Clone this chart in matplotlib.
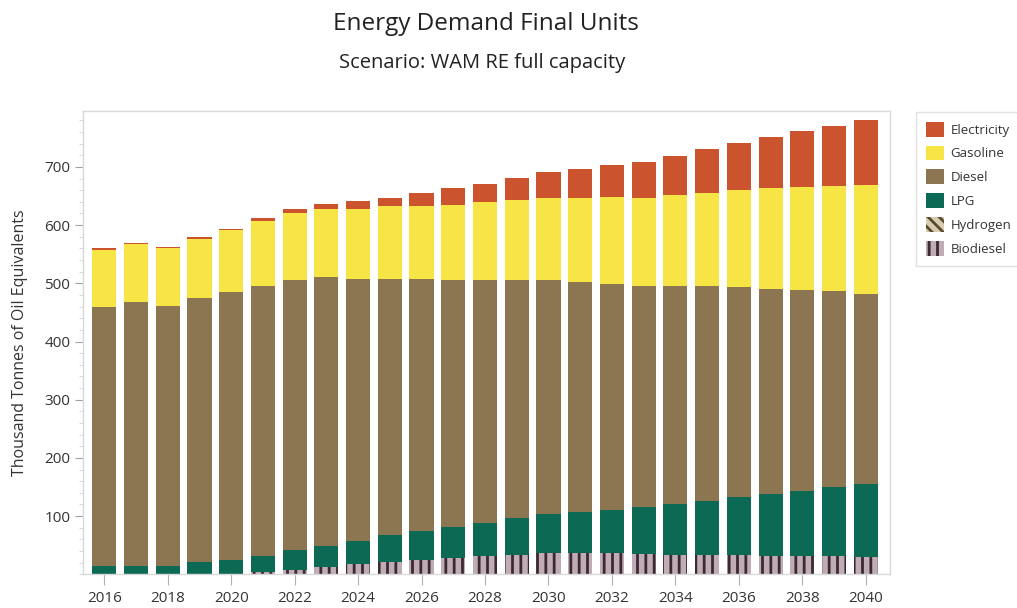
import numpy as np
import matplotlib
matplotlib.use("Agg")
import matplotlib.pyplot as plt
from matplotlib.patches import Patch
from matplotlib.ticker import MultipleLocator

plt.rcParams['font.family'] = ['Open Sans', 'DejaVu Sans']
plt.rcParams['hatch.linewidth'] = 2.0

# Final energy demand by fuel, thousand tonnes of oil equivalent
years = list(range(2016, 2041))
biodiesel = [0, 0, 0, 0, 0, 4, 8, 13, 17, 21, 24, 28, 31, 34, 37, 37, 36, 35,
             34, 34, 33, 32, 32, 31, 30]
hydrogen = [0] * 25
lpg = [14, 14, 14, 21, 24, 28, 33, 36, 41, 46, 50, 53, 58, 63, 66, 70, 75, 81,
       86, 92, 100, 106, 112, 119, 126]
diesel = [446, 454, 447, 454, 461, 463, 464, 461, 449, 441, 433, 424, 416, 408,
          402, 395, 387, 380, 376, 370, 361, 353, 345, 336, 325]
gasoline = [98, 99, 100, 101, 106, 112, 115, 118, 121, 125, 126, 129, 134, 138,
            141, 145, 150, 151, 156, 159, 166, 172, 176, 181, 188]
electricity = [2, 2, 2, 3, 3, 6, 8, 9, 13, 14, 22, 29, 31, 38, 45, 50, 55, 61,
               67, 75, 81, 89, 96, 104, 111]

# (name, values, facecolor, hatch, hatch colour) from bottom to top
layers = [
    ("Biodiesel", biodiesel, "#bfacb4", "||", "#3b2a33"),
    ("Hydrogen", hydrogen, "#d8ccb0", "\\\\\\", "#5a4a30"),
    ("LPG", lpg, "#0c6a54", None, None),
    ("Diesel", diesel, "#8b7651", None, None),
    ("Gasoline", gasoline, "#f6e544", None, None),
    ("Electricity", electricity, "#cb532d", None, None),
]

fig = plt.figure(figsize=(10.17, 6.08), dpi=100)
ax = fig.add_axes([0.0813, 0.0554, 0.7937, 0.762])

x = np.array(years)
bottom = np.zeros(len(years))
for name, vals, fc, hatch, hc in layers:
    vals = np.array(vals, dtype=float)
    if hatch:
        ax.bar(x, vals, width=0.76, bottom=bottom, color=fc, hatch=hatch,
               edgecolor=hc, linewidth=0)
    else:
        ax.bar(x, vals, width=0.76, bottom=bottom, color=fc, linewidth=0)
    bottom += vals

ax.set_xlim(2015.32, 2040.76)
ax.set_ylim(0, 796)
ax.set_xticks(range(2016, 2041, 2))
ax.yaxis.set_major_locator(MultipleLocator(100))
ax.yaxis.set_minor_locator(MultipleLocator(20))
ax.set_yticks([100, 200, 300, 400, 500, 600, 700])

for side in ax.spines.values():
    side.set_color("#d9d9d9")
    side.set_linewidth(1.0)

ax.tick_params(axis='x', which='major', length=8, color="#b0b0b0",
               labelsize=11, labelcolor="#333333", pad=4)
ax.tick_params(axis='y', which='major', length=6, color="#a0a0a0",
               labelsize=11, labelcolor="#333333", pad=3)
ax.tick_params(axis='y', which='minor', length=3, color="#d0d0d0")
ax.set_ylabel("Thousand Tonnes of Oil Equivalents", fontsize=11.5,
              color="#333333", labelpad=12)

fig.text(0.478, 0.96, "Energy Demand Final Units", ha='center', va='center',
         fontsize=17.5, color="#222222")
fig.text(0.474, 0.896, "Scenario: WAM RE full capacity", ha='center',
         va='center', fontsize=14.5, color="#222222")

handles = []
for name, vals, fc, hatch, hc in reversed(layers):
    if hatch:
        handles.append(Patch(facecolor=fc, hatch=hatch, edgecolor=hc,
                             linewidth=0, label=name))
    else:
        handles.append(Patch(facecolor=fc, linewidth=0, label=name))

leg = fig.legend(handles=handles, loc='upper left',
                 bbox_to_anchor=(0.9007, 0.8158), fontsize=9.5,
                 frameon=True, fancybox=False, edgecolor="#d9d9d9",
                 handlelength=1.35, handleheight=1.35, handletextpad=0.5,
                 labelspacing=0.68, borderpad=0.75, borderaxespad=0)
leg.get_frame().set_linewidth(1.0)
for t in leg.get_texts():
    t.set_color("#333333")

fig.savefig("out.png", dpi=100)
